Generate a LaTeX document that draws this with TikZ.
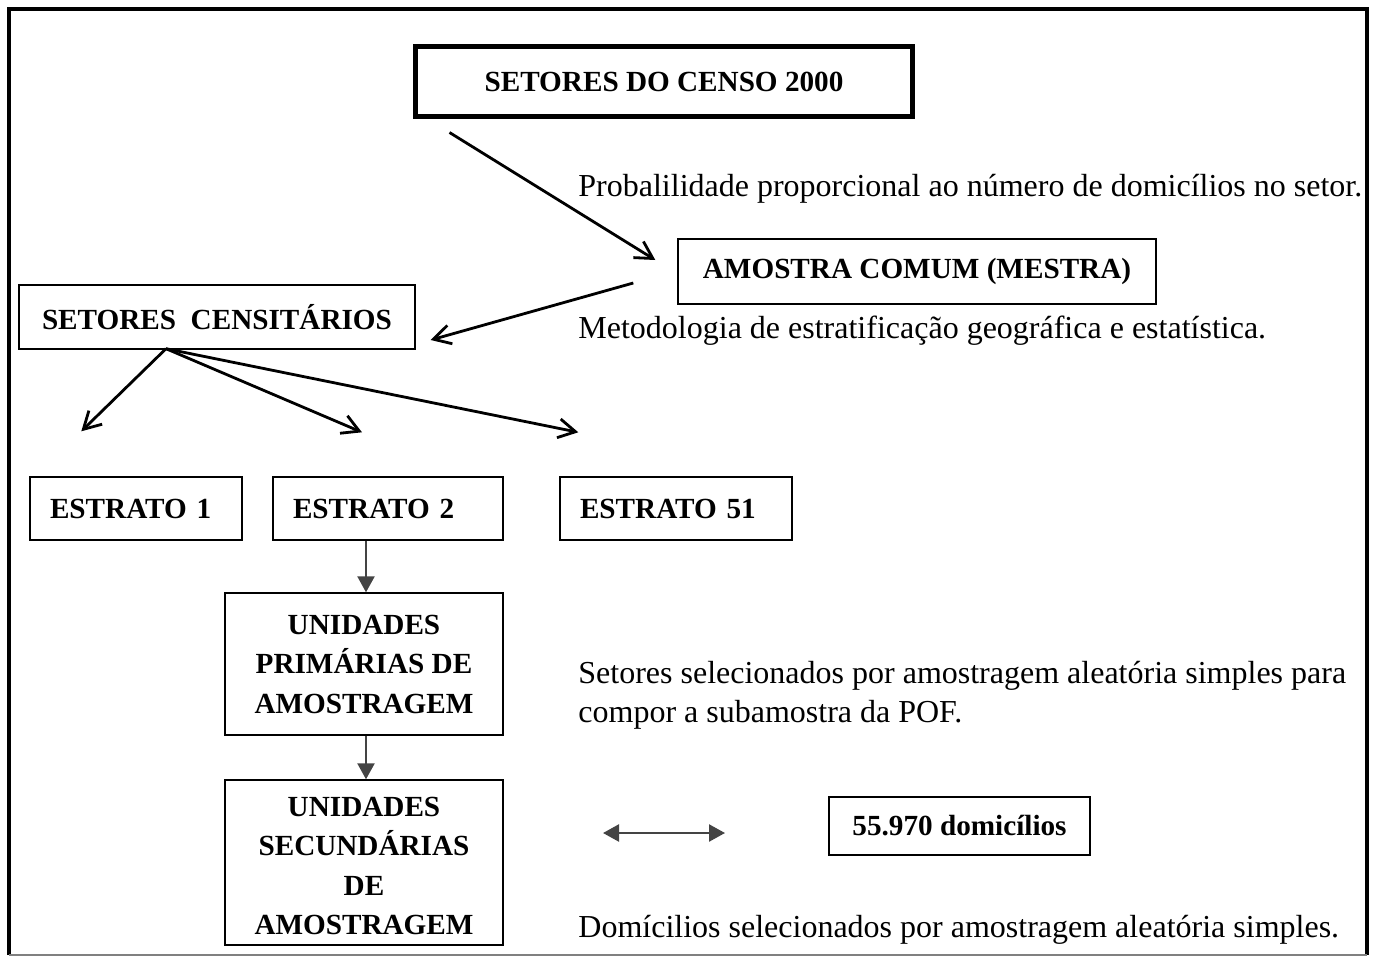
\documentclass[tikz,border=0pt]{standalone}
\usepackage{fontspec}
\setmainfont{Liberation Serif}
\usepackage{xcolor}
\usetikzlibrary{arrows.meta, positioning, calc}
\definecolor{arrowgray}{HTML}{444444}
\tikzstyle{arrow} = [line width=1.4pt,-{Straight Barb[length=8.5pt,width=9.5pt]}]
\tikzstyle{grayarrow} = [line width=1.2pt,arrowgray,-{Triangle[length=8pt,width=8.5pt]}]
\tikzstyle{box} = [draw=black,line width=0.7pt,rectangle,inner sep=0pt,align=center,font=\fontsize{14.6}{19.75}\selectfont\bfseries]
\tikzstyle{estrato} = [box,inner xsep=10pt,inner ysep=0pt,minimum height=31.5pt,align=left]
\tikzstyle{note} = [anchor=base west,inner sep=0pt,font=\fontsize{16}{19.75}\selectfont]

\begin{document}
\begin{tikzpicture}[x=0.5pt,y=-0.5pt]
    \useasboundingbox (0,0) rectangle (1379,957);
    % moldura
    \draw[line width=2pt] (9,955) -- (9,9.5) -- (1367,9.5) -- (1367,955);
    \draw[gray,line width=0.6pt] (9,955) -- (1367,955);

    \node[box,line width=2.5pt,minimum width=248.5pt,minimum height=35pt] (censo) at (664,82) {SETORES DO CENSO 2000};
    \node[box,minimum width=239pt,minimum height=32.5pt] (amostra) at (917,271.5) {AMOSTRA COMUM (MESTRA)};
    \node[box,minimum width=198pt,minimum height=32pt] (censit) at (217,317) {SETORES\ \ CENSIT\'ARIOS};
    \node[estrato,text width=86pt] (e1) at (136,508.5) {ESTRATO 1};
    \node[estrato,text width=95pt] (e2) at (388,508.5) {ESTRATO 2};
    \node[estrato,text width=96pt] (e51) at (676,508.5) {ESTRATO 51};
    \node[box,minimum width=139pt,minimum height=71pt] (upa) at (364,664) {UNIDADES\\PRIM\'ARIAS DE\\AMOSTRAGEM};
    \node[box,minimum width=139pt,minimum height=82.5pt] (usa) at (364,862.5) {\rule{0pt}{13pt}UNIDADES\\SECUND\'ARIAS\\DE\\AMOSTRAGEM};
    \node[box,minimum width=130.5pt,minimum height=29pt] (dom) at (959.5,826) {55.970 domic\'ilios};

    \node[note] (prob) at (578,197) {Probalilidade proporcional ao número de domicílios no setor.};
    \node[note] (metod) at (578,338) {Metodologia de estratificação geográfica e estatística.};
    \node[note] (sel1) at (578,683) {Setores selecionados por amostragem aleatória simples para};
    \node[note] (sel2) at (578,722) {compor a subamostra da POF.};
    \node[note] (domsel) at (578,937) {Domícilios selecionados por amostragem aleatória simples.};

    \coordinate (dl) at (603,833);
    \coordinate (dr) at (725,833);

    \draw[arrow] ($(censo.south west)+(36.5,13)$) -- ($(amostra.west)+(-22,-11.5)$);
    \draw[arrow] ($(amostra.west)+(-44,11.5)$) -- ($(censit.east)+(15,23)$);
    \draw[arrow] ($(censit.south)+(-51,-1)$) -- ($(e1.north west)+(52,-45)$);
    \draw[arrow] ($(censit.south)+(-51,-1)$) -- ($(e2.north)+(-26,-44)$);
    \draw[arrow] ($(censit.south)+(-51,-1)$) -- ($(e51.north west)+(19,-44)$);
    \draw[grayarrow] ($(upa.north |- e2.south)+(2,0)$) -- ($(upa.north)+(2,0)$);
    \draw[grayarrow] ($(upa.south)+(2,0)$) -- ($(usa.north)+(2,0)$);
    \draw[grayarrow,{Triangle[length=8pt,width=8.5pt]}-{Triangle[length=8pt,width=8.5pt]}] (dl) -- (dr);
\end{tikzpicture}
\end{document}
